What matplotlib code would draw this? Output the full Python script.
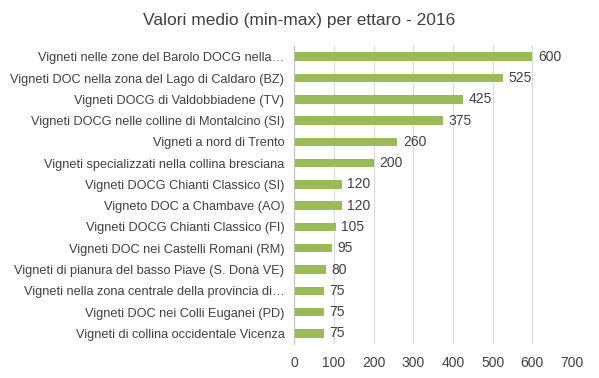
import matplotlib.pyplot as plt

labels = [
    "Vigneti nelle zone del Barolo DOCG nella…",
    "Vigneti DOC nella zona del Lago di Caldaro (BZ)",
    "Vigneti DOCG di Valdobbiadene (TV)",
    "Vigneti DOCG nelle colline di Montalcino (SI)",
    "Vigneti a nord di Trento",
    "Vigneti specializzati nella collina bresciana",
    "Vigneti DOCG Chianti Classico (SI)",
    "Vigneto DOC a Chambave (AO)",
    "Vigneti DOCG Chianti Classico (FI)",
    "Vigneti DOC nei Castelli Romani (RM)",
    "Vigneti di pianura del basso Piave (S. Donà VE)",
    "Vigneti nella zona centrale della provincia di…",
    "Vigneti DOC nei Colli Euganei (PD)",
    "Vigneti di collina occidentale Vicenza",
]
values = [600, 525, 425, 375, 260, 200, 120, 120, 105, 95, 80, 75, 75, 75]

plt.rcParams['font.family'] = ['Liberation Sans', 'DejaVu Sans']
text_color = '#404040'

fig = plt.figure(figsize=(5.99, 3.78), dpi=100)
ax = fig.add_axes([0.491, 0.09, 0.464, 0.788])

y = list(range(len(labels)))
ax.barh(y, values, height=0.4, color='#9BBB59', zorder=3)
for yi, v in zip(y, values):
    ax.text(v + 14, yi, str(v), va='center', ha='left', fontsize=10, color=text_color)

ax.set_yticks(y)
ax.set_yticklabels(labels, fontsize=9.2, color=text_color)
ax.set_ylim(len(labels) - 0.5, -0.5)
ax.set_xlim(0, 700)
ax.set_xticks(range(0, 701, 100))
ax.tick_params(axis='x', labelsize=10, colors=text_color, length=0, pad=9)
ax.tick_params(axis='y', length=0, pad=7)
ax.grid(axis='x', color='#D9D9D9', linewidth=0.8, zorder=0)
for s in ['top', 'right', 'bottom']:
    ax.spines[s].set_visible(False)
ax.spines['left'].set_color('#BFBFBF')
ax.spines['left'].set_zorder(4)

fig.text(0.5, 0.945, "Valori medio (min-max) per ettaro - 2016", ha='center', va='center',
         fontsize=12.5, color=text_color)

fig.savefig('out.png', dpi=100)
